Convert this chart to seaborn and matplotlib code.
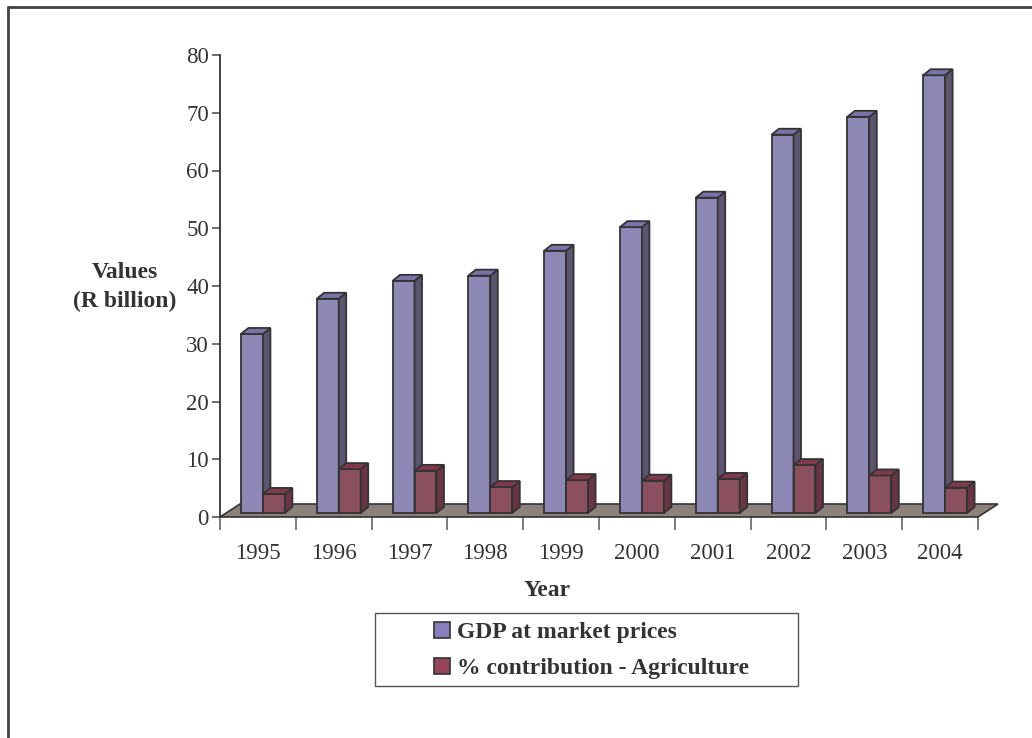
import numpy as np
import pandas as pd
import matplotlib
matplotlib.use("Agg")
import matplotlib.pyplot as plt
from matplotlib.patches import Polygon, Rectangle, Patch
from matplotlib.transforms import ScaledTranslation
from matplotlib.lines import Line2D
import seaborn as sns

# ---- data -------------------------------------------------------------
years = ["1995", "1996", "1997", "1998", "1999",
         "2000", "2001", "2002", "2003", "2004"]
gdp = [31.0, 37.1, 40.2, 41.1, 45.4, 49.5, 54.6, 65.5, 68.6, 75.8]
agri = [3.3, 7.6, 7.3, 4.5, 5.7, 5.6, 5.9, 8.3, 6.5, 4.4]
series = ["GDP at market prices", "% contribution - Agriculture"]

df = pd.DataFrame({
    "Year": years * 2,
    "Value": gdp + agri,
    "Series": [series[0]] * len(years) + [series[1]] * len(years),
})

# face colours (front, side, top) for each series
front = {series[0]: "#8780BC", series[1]: "#95465A"}
side = {series[0]: "#5D5570", series[1]: "#693445"}
top = {series[0]: "#7A72A8", series[1]: "#80394D"}
edge = "#333333"
text_col = "#333333"

sns.set_style("white")
plt.rcParams["font.family"] = ["Liberation Serif", "DejaVu Serif"]

W, H = 1032, 738
fig = plt.figure(figsize=(W / 100, H / 100), dpi=100)
ax = fig.add_axes([220 / W, 1 - 517 / H, (978 - 220) / W, (517 - 55) / H])

sns.barplot(data=df, x="Year", y="Value", hue="Series", order=years,
            hue_order=series, palette=front, width=0.58, dodge=True,
            edgecolor=edge, linewidth=1.3, legend=False, ax=ax, zorder=3)

ax.set_xlim(-0.5, 9.5)
ax.set_ylim(0, 80)

# pixel -> data unit helpers (axes geometry is fixed)
px_x = (9.5 - (-0.5)) / (978 - 220)
px_y = 80 / (517 - 55)

# floor slab
fdx, fdy = 20 * px_x, 13 * px_y
floor = Polygon([(-0.5, 0), (9.5, 0), (9.5 + fdx, fdy), (-0.5 + fdx, fdy)],
                closed=True, facecolor="#8C817B", edgecolor=edge,
                linewidth=1.2, clip_on=False, zorder=1)
ax.add_patch(floor)

# shift bars onto the floor and add side / top faces
shift = ScaledTranslation(5 / 100, 4 / 100, fig.dpi_scale_trans)
bdx, bdy = 7.5 * px_x, 6 * px_y
bars = [p for p in ax.patches if isinstance(p, Rectangle)]
for i, p in enumerate(bars):
    k = 0 if i < len(years) else 1
    s = series[k]
    z = 3 + k
    x0, w, h = p.get_x(), p.get_width(), p.get_height()
    tr = ax.transData + shift
    p.set_transform(tr)
    p.set_clip_on(False)
    p.set_zorder(z)
    sf = Polygon([(x0 + w, 0), (x0 + w + bdx, bdy), (x0 + w + bdx, h + bdy),
                  (x0 + w, h)], closed=True, facecolor=side[s],
                 edgecolor=edge, linewidth=1.3, transform=tr,
                 clip_on=False, zorder=z)
    tf = Polygon([(x0, h), (x0 + w, h), (x0 + w + bdx, h + bdy),
                  (x0 + bdx, h + bdy)], closed=True, facecolor=top[s],
                 edgecolor=edge, linewidth=1.3, transform=tr,
                 clip_on=False, zorder=z)
    ax.add_patch(sf)
    ax.add_patch(tf)

# axes styling
for sp in ["top", "right", "bottom"]:
    ax.spines[sp].set_visible(False)
ax.spines["left"].set_color(edge)
ax.spines["left"].set_linewidth(1.3)

ax.set_yticks(np.arange(0, 81, 10))
ax.tick_params(axis="y", direction="out", length=6, width=1.2, color="#555555",
               labelsize=16.5, labelcolor=text_col, pad=2, left=True)
ax.set_xticks(np.arange(-0.5, 10, 1))
ax.set_xticklabels([])
ax.set_xticks(np.arange(len(years)), labels=years, minor=True)
ax.tick_params(axis="x", which="major", direction="out", length=9, width=1.2,
               color="#666666", bottom=True)
ax.tick_params(axis="x", which="minor", length=0, labelsize=16.5,
               labelcolor=text_col, pad=19)
ax.set_xlabel("")
ax.set_ylabel("")

fig.text(125 / W, 1 - 287 / H, "Values\n(R billion)", ha="center",
         va="center", fontsize=17, fontweight="bold", color=text_col,
         linespacing=1.45)
fig.text(547 / W, 1 - 591 / H, "Year", ha="center", va="center",
         fontsize=17, fontweight="bold", color=text_col)

# legend box and entries
fig.patches.append(Rectangle((375 / W, 1 - 686 / H), (798 - 375) / W,
                             (686 - 613) / H, transform=fig.transFigure,
                             facecolor="white", edgecolor="#555555",
                             linewidth=1.0))
handles = [Patch(facecolor=front[s], edgecolor=edge, linewidth=1.2)
           for s in series]
fig.legend(handles, series, loc="center left",
           bbox_to_anchor=(413 / W, 1 - 650.5 / H), frameon=False,
           prop={"weight": "bold", "size": 17}, labelcolor=text_col,
           handlelength=0.65, handleheight=0.65, handletextpad=0.3,
           labelspacing=0.62)

# outer frame (top and left rules)
fig.add_artist(Line2D([8 / W, 1], [1 - 7 / H, 1 - 7 / H],
                      transform=fig.transFigure, color="#444444", lw=2))
fig.add_artist(Line2D([8 / W, 8 / W], [1 - 7 / H, 0],
                      transform=fig.transFigure, color="#444444", lw=2))

fig.savefig("out.png", dpi=100)
